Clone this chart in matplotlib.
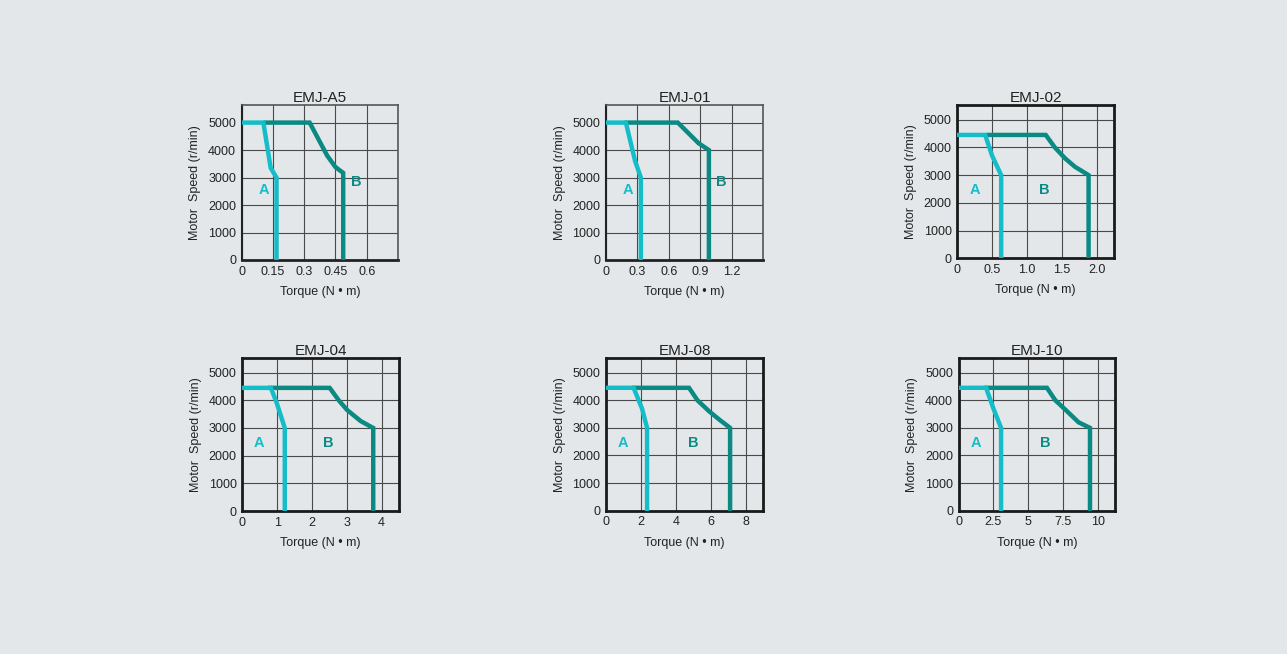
import matplotlib
matplotlib.use('Agg')
import matplotlib.pyplot as plt

plt.rcParams['font.family'] = ['Liberation Sans', 'DejaVu Sans']

# torque-speed curves
titles = ['EMJ-A5', 'EMJ-01', 'EMJ-02', 'EMJ-04', 'EMJ-08', 'EMJ-10']

a_x = [
    [0, 0.104, 0.139, 0.167, 0.167],
    [0, 0.19, 0.278, 0.333, 0.333],
    [0, 0.40, 0.50, 0.63, 0.63],
    [0, 0.82, 0.99, 1.22, 1.22],
    [0, 1.58, 2.06, 2.35, 2.35],
    [0, 1.97, 2.5, 3.05, 3.05],
]
a_y = [
    [5000, 5000, 3350, 3000, 0],
    [5000, 5000, 3600, 3000, 0],
    [4450, 4450, 3700, 3000, 0],
    [4450, 4450, 3900, 3000, 0],
    [4450, 4450, 3700, 3000, 0],
    [4450, 4450, 3700, 3000, 0],
]
b_x = [
    [0.115, 0.326, 0.41, 0.45, 0.487, 0.487],
    [0.20, 0.686, 0.884, 0.983, 0.983],
    [0.45, 1.27, 1.40, 1.55, 1.69, 1.885, 1.885],
    [0.80, 2.51, 2.77, 3.01, 3.40, 3.76, 3.76],
    [1.60, 4.75, 5.23, 5.90, 6.48, 7.10, 7.10],
    [2.00, 6.35, 6.95, 7.80, 8.63, 9.45, 9.45],
]
b_y = [
    [5000, 5000, 3800, 3380, 3170, 0],
    [5000, 5000, 4250, 4000, 0],
    [4450, 4450, 4000, 3600, 3300, 3000, 0],
    [4450, 4450, 4000, 3650, 3250, 3000, 0],
    [4450, 4450, 4000, 3600, 3300, 3000, 0],
    [4450, 4450, 4000, 3600, 3200, 3000, 0],
]
x_ticks = [
    [0, 0.15, 0.3, 0.45, 0.6],
    [0, 0.3, 0.6, 0.9, 1.2],
    [0, 0.5, 1.0, 1.5, 2.0],
    [0, 1, 2, 3, 4],
    [0, 2, 4, 6, 8],
    [0, 2.5, 5, 7.5, 10],
]
x_tick_labels = [
    ['0', '0.15', '0.3', '0.45', '0.6'],
    ['0', '0.3', '0.6', '0.9', '1.2'],
    ['0', '0.5', '1.0', '1.5', '2.0'],
    ['0', '1', '2', '3', '4'],
    ['0', '2', '4', '6', '8'],
    ['0', '2.5', '5', '7.5', '10'],
]
x_max = [0.75, 1.5, 2.25, 4.5, 9.0, 11.25]
y_max = [5640, 5640, 5530, 5540, 5540, 5540]
y_ticks = [0, 1000, 2000, 3000, 4000, 5000]
label_a = [(0.107, 2550), (0.21, 2550), (0.25, 2450), (0.48, 2450), (0.96, 2450), (1.25, 2450)]
label_b = [(0.55, 2850), (1.1, 2850), (1.25, 2450), (2.48, 2450), (5.0, 2450), (6.2, 2450)]

# axes boxes in pixels: left, top, right, bottom
boxes = [
    (241.7, 105, 398, 260),
    (606, 105, 763, 260),
    (957.3, 105, 1114, 258.3),
    (242.3, 357.7, 399, 511),
    (606, 357.7, 763.3, 510.7),
    (958.7, 357.7, 1115, 510.7),
]

W, H = 1287, 654
bg = '#e3e7ea'
col_a = '#15bdc9'
col_b = '#0a8a82'

fig = plt.figure(figsize=(W / 100, H / 100), dpi=100, facecolor=bg)

for i in range(6):
    l, t, r, b = boxes[i]
    ax = fig.add_axes([l / W, 1 - b / H, (r - l) / W, (b - t) / H])
    ax.set_facecolor(bg)
    ax.plot(b_x[i], b_y[i], color=col_b, lw=3.2, solid_joinstyle='miter', zorder=3)
    ax.plot(a_x[i], a_y[i], color=col_a, lw=3.2, solid_joinstyle='miter', zorder=4)
    ax.set_xlim(0, x_max[i])
    ax.set_ylim(0, y_max[i])
    ax.set_xticks(x_ticks[i])
    ax.set_xticklabels(x_tick_labels[i])
    ax.set_yticks(y_ticks)
    ax.tick_params(length=0, labelsize=9, colors='#222222', pad=4)
    ax.grid(True, color='#4a4a4a', lw=0.8)
    ax.set_axisbelow(True)
    if i < 2:
        for s in ax.spines.values():
            s.set_color('#555555')
            s.set_linewidth(1.2)
        ax.spines['bottom'].set_color('#222222')
        ax.spines['bottom'].set_linewidth(2)
        ax.spines['left'].set_color('#222222')
        ax.spines['left'].set_linewidth(1.5)
    else:
        for s in ax.spines.values():
            s.set_color('#1a1a1a')
            s.set_linewidth(2.0)
    ax.set_title(titles[i], fontsize=11, pad=1, color='#222222')
    ax.set_xlabel('Torque (N • m)', fontsize=9, labelpad=6, color='#222222')
    ax.set_ylabel('Motor  Speed (r/min)', fontsize=9, labelpad=5, color='#222222')
    ax.text(label_a[i][0], label_a[i][1], 'A', color=col_a, fontsize=10.5,
            fontweight='bold', ha='center', va='center')
    ax.text(label_b[i][0], label_b[i][1], 'B', color=col_b, fontsize=10.5,
            fontweight='bold', ha='center', va='center')

plt.savefig('out.png', dpi=100, facecolor=bg)
